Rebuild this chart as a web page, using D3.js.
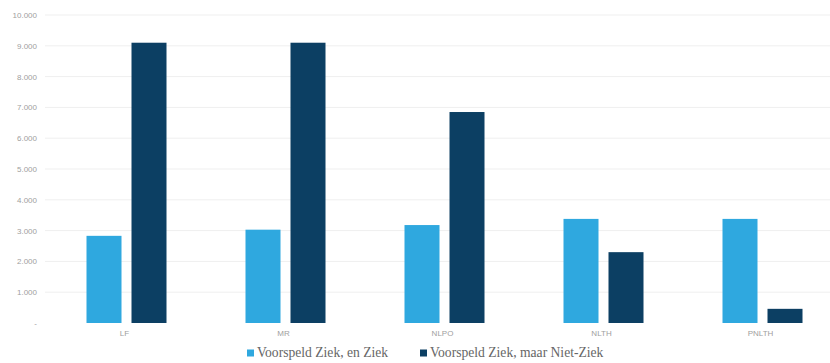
<!DOCTYPE html>
<html>
<head>
<meta charset="utf-8">
<script src="https://cdn.jsdelivr.net/npm/d3@7/dist/d3.min.js"></script>
<style>
  html, body { margin: 0; padding: 0; background: #fff; }
  svg { display: block; }
</style>
</head>
<body>
<svg id="chart" width="830" height="363"></svg>
<script>
// Categories and series
const categories = ["LF", "MR", "NLPO", "NLTH", "PNLTH"];
const seriesNames = ["Voorspeld Ziek, en Ziek", "Voorspeld Ziek, maar Niet-Ziek"];
const sickPredictedSick = [2830, 3030, 3180, 3380, 3380];
const healthyPredictedSick = [9100, 9100, 6850, 2300, 460];
const yTicks = [0, 1000, 2000, 3000, 4000, 5000, 6000, 7000, 8000, 9000, 10000];
const colors = ["#2fa8df", "#0c3f63"];

const svg = d3.select("#chart");
const plot = { left: 47, right: 842, top: 15, bottom: 323 };

const x = d3.scaleBand().domain(categories).range([plot.left, plot.right]).padding(0);
const y = d3.scaleLinear().domain([0, 10000]).range([plot.bottom, plot.top]);

const fmt = v => v === 0 ? "-" : d3.format(",")(v).replace(/,/g, ".");

// gridlines
svg.append("g")
  .selectAll("line")
  .data(yTicks.filter(d => d > 0))
  .join("line")
  .attr("x1", 45).attr("x2", 830)
  .attr("y1", d => y(d)).attr("y2", d => y(d))
  .attr("stroke", "#efefef").attr("stroke-width", 1);

// y axis labels
const yAxis = d3.axisLeft(y).tickValues(yTicks).tickFormat(fmt).tickSize(0).tickPadding(0);
const gy = svg.append("g").attr("transform", "translate(37,0)").call(yAxis);
gy.select(".domain").remove();
gy.selectAll("text")
  .attr("font-family", "Liberation Sans, Arial, sans-serif")
  .attr("font-size", 8)
  .attr("fill", "#a0a0a0");

// x axis labels
const xAxis = d3.axisBottom(x).tickSize(0).tickPadding(0);
const gx = svg.append("g").attr("transform", "translate(-2,330)").call(xAxis);
gx.select(".domain").remove();
gx.selectAll("text")
  .attr("font-family", "Liberation Sans, Arial, sans-serif")
  .attr("font-size", 8)
  .attr("fill", "#a0a0a0");

// bars
const barW = 35, gap = 10;
const series = [sickPredictedSick, healthyPredictedSick];
series.forEach((vals, si) => {
  svg.append("g")
    .selectAll("rect")
    .data(categories.map((c, i) => ({ c, v: vals[i] })))
    .join("rect")
    .attr("x", d => x(d.c) + x.bandwidth() / 2 - gap / 2 - barW + si * (barW + gap))
    .attr("y", d => y(d.v))
    .attr("width", barW)
    .attr("height", d => y(0) - y(d.v))
    .attr("fill", colors[si]);
});

// legend
const legendItems = [
  { name: seriesNames[0], color: colors[0], x: 247 },
  { name: seriesNames[1], color: colors[1], x: 420 }
];
const lg = svg.append("g");
legendItems.forEach(it => {
  lg.append("rect")
    .attr("x", it.x).attr("y", 349.5)
    .attr("width", 7).attr("height", 7)
    .attr("fill", it.color);
  lg.append("text")
    .attr("x", it.x + 10).attr("y", 357)
    .style("font-family", "'Liberation Serif', 'Times New Roman', serif")
    .style("font-size", "13.6px")
    .attr("fill", "#666")
    .text(it.name);
});
</script>
</body>
</html>
